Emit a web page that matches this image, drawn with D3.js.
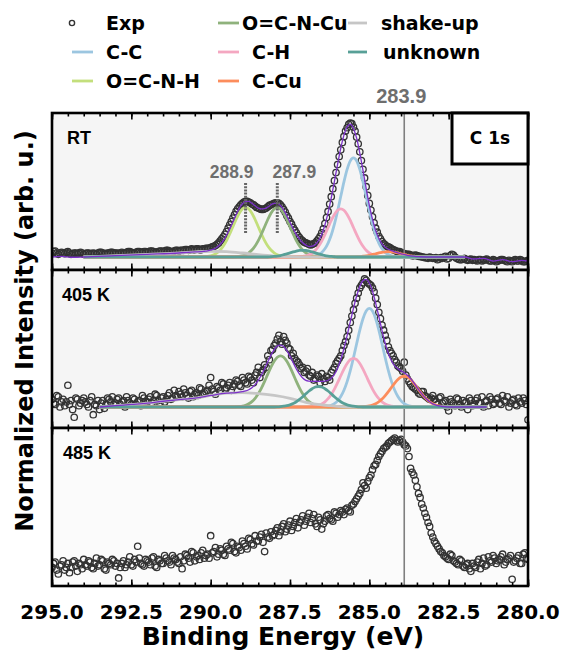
<!DOCTYPE html>
<html>
<head>
<meta charset="utf-8">
<script src="https://cdn.jsdelivr.net/npm/d3@7"></script>
<style>
  body { margin: 0; background: #fff; }
  svg { display: block; font-family: "DejaVu Sans", sans-serif; font-weight: bold; }
  .arial { font-family: "Liberation Sans", Arial, sans-serif; }
</style>
</head>
<body>
<svg id="chart" width="565" height="661"></svg>
<script>
// ---- measured spectra: 295.0 -> 280.0 eV every 0.1 eV (a), and the in-between points (b) ----
const expStart = 295.0;
const expStep = 0.1;

const expRT = [
  .03, .045, .02, .035, .025, .04, .02, .03, .025, .035,
  .02, .03, .025, .03, .02, .035, .03, .025, .03, .035,
  .03, .025, .035, .03, .04, .035, .03, .04, .035, .04,
  .035, .045, .04, .035, .045, .04, .05, .045, .04, .05,
  .045, .05, .055, .05, .06, .055, .06, .055, .06, .065,
  .07, .08, .095, .12, .15, .19, .24, .29, .34, .375,
  .40, .415, .41, .395, .38, .365, .355, .36, .375, .39,
  .40, .405, .39, .355, .31, .265, .22, .18, .145, .12,
  .105, .095, .095, .105, .135, .18, .25, .34, .45, .57,
  .69, .80, .90, .965, 1.0, .97, .895, .785, .655, .525,
  .40, .30, .215, .155, .115, .09, .075, .06, .05, .04,
  .035, .025, .02, .015, .01, .01, .005, 0, -.005, 0,
  -.01, -.005, -.015, -.01, .005, -.01, .02, 0, -.015, -.02,
  -.01, -.025, -.015, -.02, -.03, -.02, -.025, -.015, -.03, -.02,
  -.035, -.025, -.02, -.03, -.025, -.035, -.02, -.03, -.025, -.035,
  -.025
];
const expRTb = [
  .04, .03, .03, .03, .035, .03, .025, .03, .03, .03,
  .025, .03, .025, .025, .03, .035, .025, .03, .035, .03,
  .03, .03, .03, .035, .04, .03, .035, .04, .035, .04,
  .04, .045, .035, .04, .045, .045, .05, .04, .045, .05,
  .05, .05, .055, .055, .055, .06, .055, .06, .065, .065,
  .075, .085, .105, .135, .17, .215, .265, .315, .36, .39,
  .41, .415, .405, .39, .37, .36, .355, .365, .385, .395,
  .405, .40, .375, .335, .29, .245, .20, .16, .13, .11,
  .10, .09, .10, .12, .155, .21, .295, .395, .51, .63,
  .75, .855, .94, .99, .995, .94, .845, .72, .59, .46,
  .35, .255, .185, .135, .10, .08, .07, .055, .045, .04,
  .03, .02, .02, .01, .015, .005, 0, -.005, -.01, -.005,
  -.01, -.02, -.005, 0, -.015, .01, .015, -.01, -.02, -.015,
  -.02, -.02, -.025, -.025, -.02, -.03, -.02, -.025, -.03, -.025,
  -.03, -.02, -.025, -.035, -.03, -.025, -.03, -.02, -.035, -.03
];

const exp405 = [
  .06, .02, .08, .04, .01, .17, .05, -.08, .06, .03,
  .07, .02, .05, -.06, .01, -.02, .05, .02, .06, .08,
  .03, .07, .04, 0, .05, .02, .06, .04, .01, .07,
  .04, .08, .05, .09, .03, .08, .06, .11, .07, .09,
  .12, .08, .11, .07, .13, .10, .09, .14, .11, .13,
  .23, .12, .16, .13, .18, .15, .19, .16, .21, .17,
  .23, .19, .24, .21, .25, .31, .27, .33, .40, .44,
  .48, .53, .51, .55, .50, .45, .42, .36, .33, .31,
  .28, .25, .27, .22, .24, .26, .20, .23, .27, .31,
  .36, .40, .48, .55, .66, .76, .85, .93, .97, .99,
  .96, .93, .85, .74, .64, .56, .47, .42, .37, .32,
  .30, .35, .22, .18, .15, .13, .10, .12, .08, .06,
  .09, .04, .07, .03, .05, -.03, .04, .01, .06, 0,
  .03, -.02, .05, .02, .07, .03, 0, .05, .08, .02,
  .06, .03, .09, .04, 0, .05, .02, .07, .03, .05,
  -.10
];
const exp405b = [
  .03, .09, 0, .06, .04, .02, -.02, .07, .01, .05,
  .04, 0, .08, .02, .05, .03, -.01, .07, .04, .02,
  .06, .02, .05, .08, .03, .07, .02, .05, .09, .04,
  .06, .03, .10, .05, .07, .04, .09, .06, .13, .08,
  .10, .14, .09, .12, .08, .11, .15, .10, .12, .17,
  .14, .10, .15, .19, .14, .17, .13, .18, .20, .16,
  .21, .18, .23, .19, .27, .23, .29, .31, .37, .45,
  .50, .56, .49, .52, .46, .40, .38, .35, .30, .27,
  .30, .24, .21, .25, .19, .22, .24, .21, .29, .34,
  .38, .44, .51, .60, .71, .81, .89, .95, 1.0, .97,
  .95, .90, .80, .69, .60, .52, .44, .40, .35, .31,
  .28, .25, .20, .16, .14, .11, .12, .09, .07, .07,
  .06, .02, .08, .04, 0, .06, .03, .07, .02, .05,
  .04, .07, .01, .05, .03, .08, .04, .01, .06, .03,
  .07, .02, .05, .08, .03, .06, .01, .04, .07, .02
];

const exp485 = [
  .02, .06, -.03, .04, 0, .05, .02, .07, -.01, .04,
  .08, .03, .06, .01, .09, .04, .07, 0, .05, .08,
  .03, -.06, .05, .02, .06, .04, .08, .18, .05, .03,
  .07, .04, .10, .02, .07, .05, .09, .06, .11, .08,
  .05, .01, .12, .09, .14, .07, .11, .13, .09, .12,
  .26, .14, .10, .16, .12, .18, .15, .20, .13, .17,
  .22, .18, .24, .20, .26, .22, .27, .14, .25, .29,
  .27, .32, .29, .35, .31, .37, .33, .39, .36, .41,
  .37, .43, .39, .35, .40, .31, .37, .42, .38, .44,
  .40, .45, .42, .47, .44, .50, .54, .58, .66, .62,
  .70, .76, .80, .86, .90, .93, .96, .98, 1.0, .97,
  .99, .95, .92, .77, .72, .63, .55, .47, .40, .33,
  .25, .20, .16, .13, .10, .08, .11, .06, .04, .07,
  .02, .05, -.01, .03, .06, .01, .09, .04, .07, .11,
  .05, .08, .12, .06, .09, -.07, .07, .11, .05, .13,
  .08
];
const exp485b = [
  .05, 0, .03, .07, .02, -.02, .06, .03, .05, .01,
  .04, .07, .02, .05, .03, .08, .01, .06, .04, .07,
  .05, .02, .07, .04, .10, .03, .06, .09, .04, .08,
  .06, .09, .03, .08, .05, .11, .07, .04, .09, .06,
  .10, .07, .11, .06, .13, .10, .08, .15, .11, .09,
  .13, .17, .12, .15, .11, .16, .21, .14, .18, .15,
  .20, .16, .23, .19, .22, .25, .21, .28, .24, .26,
  .30, .26, .33, .29, .34, .30, .36, .32, .38, .34,
  .40, .36, .42, .33, .38, .35, .41, .39, .37, .43,
  .42, .44, .46, .45, .49, .52, .56, .61, .64, .67,
  .72, .79, .83, .88, .92, .94, .97, .99, .98, .98,
  .97, .94, .86, .74, .68, .58, .50, .43, .36, .28,
  .22, .18, .14, .11, .09, .12, .07, .05, .08, .03,
  .04, .01, .05, .02, .08, .05, .03, .10, .06, .09,
  .07, .10, .04, .08, .11, .06, .09, .05, .12, .09
];

// ---- fitted components: start energy + values every 0.1 eV (descending) ----
const rtOCNH  = { start: 290.2, values: [.002,.004,.009,.017,.031,.052,.082,.122,.172,.226,.280,.327,.359,.37,.359,.327,.280,.226,.172,.122,.082,.052,.031,.017,.009,.004,.002] };
const rtOCNCu = { start: 289.2, values: [.002,.004,.009,.017,.031,.052,.082,.122,.172,.226,.280,.327,.359,.37,.359,.327,.280,.226,.172,.122,.082,.052,.031,.017,.009,.004,.002] };
const rtCC    = { start: 286.8, values: [.004,.009,.018,.034,.061,.104,.164,.245,.343,.453,.561,.654,.718,.74,.718,.654,.561,.453,.343,.245,.164,.104,.061,.034,.018,.009,.004] };
const rtCH    = { start: 287.2, values: [.002,.004,.009,.017,.030,.050,.080,.119,.167,.220,.273,.318,.349,.36,.349,.318,.273,.220,.167,.119,.080,.050,.030,.017,.009,.004,.002] };
const rtCCu   = { start: 285.4, values: [.002,.003,.006,.009,.013,.019,.024,.030,.035,.039,.04,.039,.035,.030,.024,.019,.013,.009,.006,.003,.002] };
const rtUnk   = { start: 288.1, values: [.002,.004,.007,.011,.017,.023,.031,.038,.044,.049,.05,.049,.044,.038,.031,.023,.017,.011,.007,.004,.002] };
const rtShake = [[294,0],[293,.01],[292,.02],[291,.03],[290.5,.038],[290,.043],[289.5,.04],[289,.03],[288.5,.017],[288,.007],[287.5,.002],[287,0],[282,0]];
const rtFitLeft = [[295,0],[294.7,.004],[294.4,-.002],[294,0],[293,.01],[292,.02],[291,.03],[290.5,.038]];
const rtFitMid = { start: 290.3, values: [
  .040,.043,.046,.052,.059,.073,.093,.123,.162,.210,
  .262,.316,.363,.398,.414,.415,.401,.382,.365,.359,
  .361,.373,.390,.401,.400,.384,.352,.308,.259,.212,
  .167,.134,.106,.089,.078,.081,.094,.123,.170,.239,
  .331,.441,.565,.692,.813,.910,.972,.991,.960,.887,
  .776,.647,.512,.386,.281,.197,.138,.098,.073,.058,
  .048,.039,.030,.024,.019,.013,.009,.006,.003,.002] };
const rtFitRight = [[283,0],[282,0],[281.7,-.015],[281.4,-.01],[281.1,-.03],[280.8,-.02],[280.5,-.035],[280.2,-.025],[280,-.03]];

const k405CC    = { start: 286.4, values: [.003,.007,.014,.027,.048,.082,.131,.198,.284,.385,.494,.600,.689,.749,.77,.749,.689,.600,.494,.385,.284,.198,.131,.082,.048,.027,.014,.007,.003] };
const k405CH    = { start: 286.9, values: [.002,.003,.007,.013,.024,.040,.065,.098,.140,.19,.244,.296,.340,.370,.38,.370,.340,.296,.244,.19,.140,.098,.065,.040,.024,.013,.007,.003,.002] };
const k405CCu   = { start: 285.2, values: [.002,.004,.008,.015,.025,.041,.062,.089,.12,.154,.187,.215,.234,.24,.234,.215,.187,.154,.12,.089,.062,.041,.025,.015,.008,.004,.002] };
const k405Unk   = { start: 287.9, values: [.001,.003,.006,.010,.017,.027,.041,.059,.080,.103,.125,.143,.156,.16,.156,.143,.125,.103,.080,.059,.041,.027,.017,.010,.006,.003,.001] };
const k405OCNCu = { start: 289.2, values: [.002,.004,.007,.014,.025,.042,.068,.103,.148,.20,.257,.312,.358,.389,.40,.389,.358,.312,.257,.20,.148,.103,.068,.042,.025,.014,.007,.004,.002] };
const k405OCNH  = { start: 287.0, values: [] };
const k405Shake = [[293.5,0],[293,.01],[292.5,.02],[292,.03],[291.5,.045],[291,.058],[290.5,.07],[290,.09],[289.5,.108],[289,.113],[288.5,.105],[288,.09],[287.5,.068],[287,.037],[286.5,.016],[286,.005],[285.5,0],[281.3,0]];
const k405FitLeft = [[293.5,0],[293,.01],[292.5,.02],[292,.03],[291.5,.045],[291,.058],[290.5,.07],[290,.09],[289.5,.108]];
const k405FitMid = { start: 289.2, values: [
  .113,.116,.120,.125,.135,.150,.175,.208,.250,.299,
  .353,.405,.448,.476,.484,.472,.440,.397,.346,.297,
  .256,.226,.208,.202,.200,.201,.200,.200,.202,.209,
  .224,.254,.302,.371,.457,.557,.665,.771,.867,.941,
  .987,.997,.968,.904,.812,.706,.596,.498,.417,.359,
  .321,.299,.282,.267,.248,.222,.190,.154,.120,.089,
  .062,.041,.025,.015,.008,.004,.002,0] };
const k405FitRight = [[281.3,0]];

const xTicksMajor = [295, 292.5, 290, 287.5, 285, 282.5, 280];
const peakMarks = [288.9, 287.9];
const refLine = 283.9;

// ---- series styling ----
const series = [
  { key: 'CC',    label: 'C-C',      color: '#9cc6e0' },
  { key: 'OCNH',  label: 'O=C-N-H',  color: '#c3df7c' },
  { key: 'OCNCu', label: 'O=C-N-Cu', color: '#8fb27c' },
  { key: 'CH',    label: 'C-H',      color: '#f4a7c1' },
  { key: 'CCu',   label: 'C-Cu',     color: '#fc8d5c' },
  { key: 'Shake', label: 'shake-up', color: '#c6c6c6' },
  { key: 'Unk',   label: 'unknown',  color: '#58a097' }
];
const fitColor = '#7b30c8';

const panels = [
  { label: 'RT', labelX: 67, top: 113, bottom: 270, domain: [-0.097, 1.075], bg: '#f5f5f5', exp: [expRT, expRTb],
    fitRange: [294, 282],
    comps: { CC: rtCC, OCNH: rtOCNH, OCNCu: rtOCNCu, CH: rtCH, CCu: rtCCu, Unk: rtUnk }, shake: rtShake,
    fit: [rtFitLeft, rtFitMid, rtFitRight] },
  { label: '405 K', labelX: 62, top: 270, bottom: 428, domain: [-0.164, 1.070], bg: '#f5f5f5', exp: [exp405, exp405b],
    fitRange: [293.5, 281.3],
    comps: { CC: k405CC, OCNH: k405OCNH, OCNCu: k405OCNCu, CH: k405CH, CCu: k405CCu, Unk: k405Unk }, shake: k405Shake,
    fit: [k405FitLeft, k405FitMid, k405FitRight] },
  { label: '485 K', labelX: 63, top: 428, bottom: 586, domain: [-0.121, 1.076], bg: '#fbfbfb', exp: [exp485, exp485b] }
];

const svg = d3.select('#chart');
const x = d3.scaleLinear().domain([295, 280]).range([52, 528]);
const line = d3.line().x(d => x(d[0])).y(d => d[2](d[1])).curve(d3.curveMonotoneX);

// turn a {start, values} block into [eV, value] pairs
function blockPairs(b) {
  return b.values.map((v, i) => [+(b.start - i * 0.1).toFixed(2), v]);
}
function compPairs(b, range) {
  const inner = blockPairs(b);
  if (!inner.length) return [[range[0], 0], [range[1], 0]];
  const first = inner[0][0], last = inner[inner.length - 1][0];
  return [[range[0], 0], [first + 0.1, 0], ...inner, [last - 0.1, 0], [range[1], 0]];
}

panels.forEach((p, pi) => {
  const y = d3.scaleLinear().domain(p.domain).range([p.bottom, p.top]);
  const g = svg.append('g');
  const clipId = 'clip' + pi;
  svg.append('clipPath').attr('id', clipId)
    .append('rect').attr('x', 52).attr('y', p.top).attr('width', 476).attr('height', p.bottom - p.top);

  g.append('rect').attr('x', 52).attr('y', p.top).attr('width', 476).attr('height', p.bottom - p.top)
    .attr('fill', p.bg);

  const plot = g.append('g').attr('clip-path', `url(#${clipId})`);

  // experimental points (main grid, then the half-step points)
  p.exp.forEach((arr, k) => {
    plot.append('g').selectAll('circle').data(arr).join('circle')
      .attr('cx', (d, i) => x(expStart - k * expStep / 2 - i * expStep))
      .attr('cy', d => y(d))
      .attr('r', 3.2)
      .attr('fill', 'none')
      .attr('stroke', '#333')
      .attr('stroke-width', 1.3);
  });

  // reference line
  plot.append('line')
    .attr('x1', x(refLine)).attr('x2', x(refLine))
    .attr('y1', p.top).attr('y2', p.bottom)
    .attr('stroke', '#7f7f7f').attr('stroke-width', 1.6);

  if (p.comps) {
    const yl = (pairs) => line(pairs.map(d => [d[0], d[1], y]));
    series.forEach(s => {
      const pairs = s.key === 'Shake' ? p.shake : compPairs(p.comps[s.key], p.fitRange);
      plot.append('path').attr('d', yl(pairs))
        .attr('fill', 'none').attr('stroke', s.color).attr('stroke-width', 2.8)
        .attr('stroke-linejoin', 'round');
    });
    const fitPairs = [...p.fit[0], ...blockPairs(p.fit[1]), ...p.fit[2]];
    plot.append('path').attr('d', yl(fitPairs))
      .attr('fill', 'none').attr('stroke', fitColor).attr('stroke-width', 1.3);
  }

  // ticks (inward, top and bottom)
  const minor = d3.range(0, 31).map(i => 295 - i * 0.5);
  const addTicks = (axisFn, ty, vals, size) => {
    g.append('g').attr('transform', `translate(0,${ty})`)
      .call(axisFn(x).tickValues(vals).tickSizeInner(-size).tickSizeOuter(0).tickFormat(''))
      .call(a => a.select('.domain').remove())
      .call(a => a.selectAll('line').attr('stroke', '#000').attr('stroke-width', 1.6));
  };
  addTicks(d3.axisBottom, p.bottom, minor, 3.5);
  addTicks(d3.axisBottom, p.bottom, xTicksMajor, 6.5);
  addTicks(d3.axisTop, p.top, minor, 3.5);
  addTicks(d3.axisTop, p.top, xTicksMajor, 6.5);

  g.append('text').attr('class', 'arial').attr('x', p.labelX).attr('y', p.top + 31)
    .attr('font-size', 18).attr('fill', '#000').text(p.label);

  if (pi === 0) {
    // dotted peak markers with their labels pushed outward
    const labelShift = [-14, 17];
    peakMarks.forEach((pk, j) => {
      g.append('line').attr('x1', x(pk)).attr('x2', x(pk))
        .attr('y1', 183).attr('y2', 234)
        .attr('stroke', '#666').attr('stroke-width', 3).attr('stroke-dasharray', '2,1.2');
      g.append('text').attr('class', 'arial').attr('x', x(pk) + labelShift[j]).attr('y', 178)
        .attr('text-anchor', 'middle')
        .attr('font-size', 17.5).attr('fill', '#6e6e6e').text(pk.toFixed(1));
    });
  }

  g.append('rect').attr('x', 52).attr('y', p.top).attr('width', 476).attr('height', p.bottom - p.top)
    .attr('fill', 'none').attr('stroke', '#000').attr('stroke-width', 2.6);

  if (pi === 0) {
    g.append('rect').attr('x', 452).attr('y', 113).attr('width', 76).attr('height', 51)
      .attr('fill', '#fff').attr('stroke', '#000').attr('stroke-width', 3);
    g.append('text').attr('x', 490).attr('y', 144).attr('text-anchor', 'middle')
      .attr('font-size', 17).attr('fill', '#000').text('C 1s');
  }
});

// reference label above the top panel
svg.append('text').attr('class', 'arial').attr('x', x(refLine) - 3).attr('y', 103)
  .attr('text-anchor', 'middle')
  .attr('font-size', 20).attr('fill', '#6e6e6e').text(refLine.toFixed(1));

// x tick labels
const fmt = d3.format('.1f');
svg.append('g').selectAll('text').data(xTicksMajor).join('text')
  .attr('x', d => x(d)).attr('y', 619).attr('text-anchor', 'middle')
  .attr('font-size', 20).attr('fill', '#000').text(d => fmt(d));

svg.append('text').attr('x', 283).attr('y', 645).attr('text-anchor', 'middle')
  .attr('font-size', 25).attr('fill', '#000').text('Binding Energy (eV)');

svg.append('text').attr('transform', 'translate(33,331) rotate(-90)').attr('text-anchor', 'middle')
  .attr('font-size', 24).attr('fill', '#000').text('Normalized Intensity (arb. u.)');

// legend
const legendRows = [23, 52, 81];
const legendItems = [
  { label: 'Exp', marker: true, col: 0, row: 0 },
  { key: 'CC', col: 0, row: 1 },
  { key: 'OCNH', col: 0, row: 2 },
  { key: 'OCNCu', col: 1, row: 0 },
  { key: 'CH', col: 1, row: 1 },
  { key: 'CCu', col: 1, row: 2 },
  { key: 'Shake', col: 2, row: 0 },
  { key: 'Unk', col: 2, row: 1 }
];
const legendCols = [
  { lx: [72, 93], tx: 106 },
  { lx: [218, 239], tx: 252 },
  { lx: [348, 367], tx: 381 }
];
const lg = svg.append('g');
legendItems.forEach(it => {
  const c = legendCols[it.col];
  const ly = legendRows[it.row];
  let label = it.label;
  let tx = c.tx;
  if (it.marker) {
    lg.append('circle').attr('cx', 72).attr('cy', ly).attr('r', 2.6)
      .attr('fill', 'none').attr('stroke', '#333').attr('stroke-width', 1.4);
  } else {
    const s = series.find(d => d.key === it.key);
    label = s.label;
    lg.append('line').attr('x1', c.lx[0]).attr('x2', c.lx[1]).attr('y1', ly).attr('y2', ly)
      .attr('stroke', s.color).attr('stroke-width', 2.8);
    if (it.key === 'OCNCu') tx = 242;
    if (it.key === 'Unk') tx = 383;
  }
  lg.append('text').attr('x', tx).attr('y', ly + 7).attr('font-size', 19)
    .attr('fill', '#000').text(label);
});
</script>
</body>
</html>
